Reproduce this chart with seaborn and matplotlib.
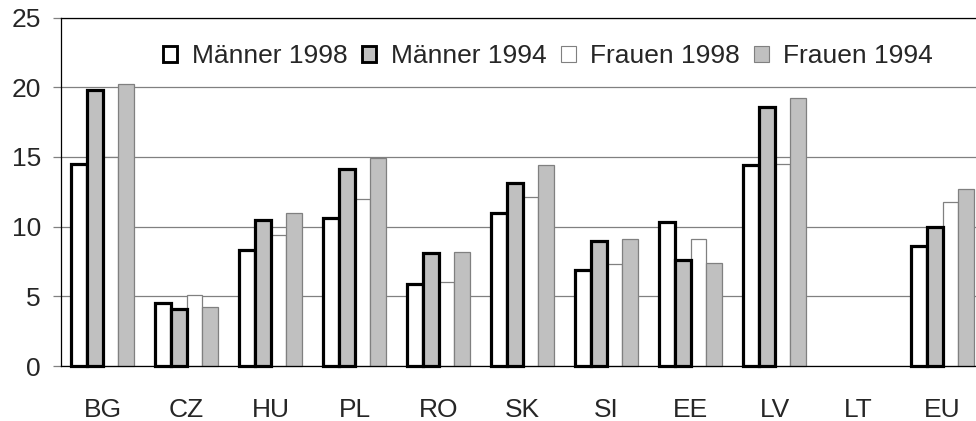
import numpy as np
import pandas as pd
import matplotlib
matplotlib.use("Agg")
import matplotlib.pyplot as plt
from matplotlib.patches import Patch
import seaborn as sns

categories = ['BG', 'CZ', 'HU', 'PL', 'RO', 'SK', 'SI', 'EE', 'LV', 'LT', 'EU']
series_names = ['Männer 1998', 'Männer 1994', 'Frauen 1998', 'Frauen 1994']
maenner_1998 = [14.5, 4.5, 8.3, 10.6, 5.9, 11.0, 6.9, 10.3, 14.4, np.nan, 8.6]
maenner_1994 = [19.8, 4.1, 10.5, 14.1, 8.1, 13.1, 9.0, 7.6, 18.6, np.nan, 10.0]
frauen_1998 = [15.0, 5.1, 9.4, 12.0, 6.0, 12.1, 7.3, 9.1, 14.5, np.nan, 11.8]
frauen_1994 = [20.2, 4.2, 11.0, 14.9, 8.2, 14.4, 9.1, 7.4, 19.2, np.nan, 12.7]
y_ticks = [0, 5, 10, 15, 20, 25]

rows = []
for name, vals in zip(series_names, [maenner_1998, maenner_1994, frauen_1998, frauen_1994]):
    for c, v in zip(categories, vals):
        rows.append({'Land': c, 'Serie': name, 'Wert': v})
df = pd.DataFrame(rows).dropna()

sns.set_style("white")
plt.rcParams['font.family'] = ['Liberation Sans', 'DejaVu Sans']

fill = {'Männer 1998': 'white', 'Männer 1994': '#c0c0c0',
        'Frauen 1998': 'white', 'Frauen 1994': '#c0c0c0'}
edge = {'Männer 1998': ('black', 2.3), 'Männer 1994': ('black', 2.3),
        'Frauen 1998': ('#808080', 0.9), 'Frauen 1994': ('#808080', 0.9)}

fig = plt.figure(figsize=(9.76, 4.21), dpi=100)
ax = fig.add_axes([60.5 / 976, 55 / 421, 924 / 976, 348.5 / 421])

sns.barplot(data=df, x='Land', y='Wert', hue='Serie', order=categories,
            hue_order=series_names, palette=fill, width=0.75, errorbar=None,
            ax=ax, legend=False, saturation=1)

for name, cont in zip(series_names, ax.containers):
    col, lw = edge[name]
    for p in cont:
        p.set_edgecolor(col)
        p.set_linewidth(lw)
        p.set_clip_on(False)
        p.set_zorder(3 if lw > 1 else 2)

ax.set_ylim(0, 25)
ax.set_xlim(-0.5, len(categories) - 0.5)
ax.set_yticks(y_ticks)
ax.yaxis.grid(True, color='#808080', linewidth=0.9)
ax.set_axisbelow(True)
ax.set_xlabel('')
ax.set_ylabel('')

for s in ['left', 'bottom', 'top']:
    ax.spines[s].set_visible(True)
    ax.spines[s].set_color('black')
    ax.spines[s].set_linewidth(0.9)
ax.spines['right'].set_visible(False)

ax.tick_params(axis='y', which='major', length=6, width=0.9, color='#808080',
               pad=8, labelsize=19, left=True)
ax.tick_params(axis='x', length=0, pad=23, labelsize=19)

handles = []
for name in series_names:
    col, lw = edge[name]
    handles.append(Patch(facecolor=fill[name], edgecolor=col, linewidth=lw * 0.9, label=name))
leg = fig.legend(handles=handles, loc='center', bbox_to_anchor=(548 / 976, 1 - 56 / 421),
                 ncol=4, frameon=False, fontsize=19, handlelength=0.55, handleheight=0.55,
                 handletextpad=0.55, columnspacing=0.55, borderpad=0.2)

fig.savefig('out.png', dpi=100)
